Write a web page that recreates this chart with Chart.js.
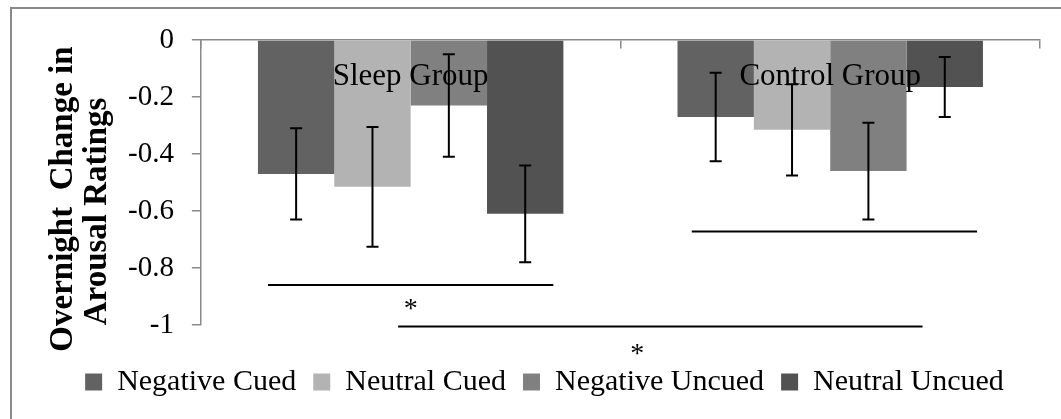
<!DOCTYPE html>
<html>
<head>
<meta charset="utf-8">
<script src="https://cdn.jsdelivr.net/npm/chart.js@4.4.1/dist/chart.umd.min.js"></script>
<style>
  html, body { margin: 0; padding: 0; background: #fff; }
  #wrap { position: relative; width: 1061px; height: 419px; overflow: hidden; }
  #frame { position: absolute; left: 10px; top: 7px; right: -20px; bottom: -20px; border: 2px solid #898989; pointer-events: none; }
</style>
</head>
<body>
<div id="wrap">
  <canvas id="arousal"></canvas>
  <div id="frame"></div>
</div>
<script>
const groups = ['Sleep Group', 'Control Group'];

// mean overnight change per condition, [sleep, control]
const negativeCued = [-0.47, -0.27];
const neutralCued = [-0.515, -0.315];
const negativeUncued = [-0.23, -0.46];
const neutralUncued = [-0.61, -0.165];

// standard error for each bar
const negativeCuedErr = [0.16, 0.155];
const neutralCuedErr = [0.21, 0.16];
const negativeUncuedErr = [0.18, 0.17];
const neutralUncuedErr = [0.17, 0.105];

const yTicks = { min: -1, max: 0, step: 0.2 };

// significance bars: level on y, start/end in category units
const sigLevels = [-0.86, -1.005, -0.672];
const sigFrom = [-0.34, -0.03, 0.67];
const sigTo = [0.34, 1.22, 1.35];
const starX = [0, 0.54];
const starY = [-0.925, -1.085];

Chart.defaults.font.family = "'Liberation Serif', 'Times New Roman', serif";
Chart.defaults.color = '#000';

const axisGrey = '#8a8a8a';

function series(label, data, err, color) {
  return { label, data, err, backgroundColor: color, borderWidth: 0 };
}

const errorBars = {
  id: 'errorBars',
  afterDatasetsDraw(chart) {
    const { ctx, scales: { x, y } } = chart;
    ctx.save();
    ctx.strokeStyle = '#000';
    ctx.lineWidth = 2;
    chart.data.datasets.forEach((ds, i) => {
      chart.getDatasetMeta(i).data.forEach((bar, j) => {
        const top = y.getPixelForValue(ds.data[j] + ds.err[j]);
        const bot = y.getPixelForValue(ds.data[j] - ds.err[j]);
        ctx.beginPath();
        ctx.moveTo(bar.x, top); ctx.lineTo(bar.x, bot);
        ctx.moveTo(bar.x - 6, top); ctx.lineTo(bar.x + 6, top);
        ctx.moveTo(bar.x - 6, bot); ctx.lineTo(bar.x + 6, bot);
        ctx.stroke();
      });
    });

    // significance lines and stars
    const x0 = x.getPixelForValue(0);
    const unit = x.getPixelForValue(1) - x0;
    sigLevels.forEach((lvl, k) => {
      const py = y.getPixelForValue(lvl);
      ctx.beginPath();
      ctx.moveTo(x0 + sigFrom[k] * unit, py);
      ctx.lineTo(x0 + sigTo[k] * unit, py);
      ctx.stroke();
    });
    ctx.fillStyle = '#000';
    ctx.font = "28px 'Liberation Serif', serif";
    ctx.textAlign = 'center';
    ctx.textBaseline = 'alphabetic';
    starX.forEach((sx, k) => {
      ctx.fillText('*', x0 + sx * unit, y.getPixelForValue(starY[k]) + 13);
    });
    ctx.restore();
  }
};

new Chart(document.getElementById('arousal'), {
  type: 'bar',
  data: {
    labels: groups,
    datasets: [
      series('Negative Cued', negativeCued, negativeCuedErr, '#626262'),
      series('Neutral Cued', neutralCued, neutralCuedErr, '#b3b3b3'),
      series('Negative Uncued', negativeUncued, negativeUncuedErr, '#808080'),
      series('Neutral Uncued', neutralUncued, neutralUncuedErr, '#525252')
    ]
  },
  options: {
    responsive: true,
    maintainAspectRatio: false,
    animation: false,
    categoryPercentage: 0.728,
    barPercentage: 1,
    layout: { padding: { left: 49, right: 21, top: 40, bottom: 12 } },
    scales: {
      x: {
        position: { y: 0 },
        offset: true,
        grid: { offset: true, drawOnChartArea: false, tickLength: 8, color: axisGrey, lineWidth: 1.5 },
        border: { color: axisGrey, width: 1.5 },
        // group names sit just under the zero line, over the bars
        ticks: { z: 1, padding: 10, font: { size: 31 }, maxRotation: 0, autoSkip: false }
      },
      y: {
        min: yTicks.min,
        max: yTicks.max,
        ticks: {
          stepSize: yTicks.step,
          padding: 18,
          font: { size: 29 },
          callback: v => String(Math.round(v * 10) / 10)
        },
        grid: { drawOnChartArea: false, tickLength: 9, color: axisGrey, lineWidth: 1.5 },
        border: { color: axisGrey, width: 1.5 },
        title: {
          display: true,
          text: ['Overnight  Change in    ', 'Arousal Ratings       '],
          font: { size: 33, weight: 'bold', lineHeight: 1.03 },
          padding: { top: -3, bottom: -4 }
        }
      }
    },
    plugins: {
      tooltip: { enabled: false },
      legend: {
        position: 'bottom',
        title: { display: true, text: '', padding: 0, font: { size: 25, lineHeight: 1 } },
        labels: { boxWidth: 17, boxHeight: 17, padding: 17, font: { size: 30 } }
      }
    }
  },
  plugins: [errorBars]
});
</script>
</body>
</html>
